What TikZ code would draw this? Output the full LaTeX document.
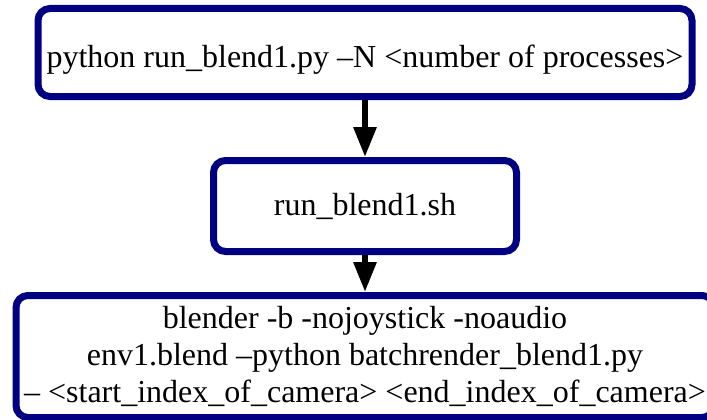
\documentclass[tikz,border=0pt]{standalone}
\usepackage{fontspec}
\setmainfont{Liberation Serif}
\newfontfamily\cmdface{Liberation Serif}
\usetikzlibrary{arrows.meta}
\definecolor{boxnavy}{HTML}{000080}
\tikzset{
  cmdbox/.style={draw=boxnavy, line width=7pt, rounded corners=12pt, fill=white,
    inner sep=0pt, align=center, font=\cmdface\fontsize{32}{37}\selectfont},
  flowarrow/.style={line width=6pt, -{Triangle[length=30pt,width=22pt]}}
}
\begin{document}
\begin{tikzpicture}[x=1pt,y=-1pt]
  \useasboundingbox (0,0) rectangle (707,420);
  \clip (0,0) rectangle (707,420);
  \node[cmdbox, minimum width=654pt, minimum height=88pt,
        text height=31pt, text depth=0pt] (b1) at (365,52.5)
    {python run\_blend1.py –N <number of processes>};
  \node[cmdbox, minimum width=303pt, minimum height=91pt] (b2) at (365,206)
    {run\_blend1.sh};
  \node[cmdbox, minimum width=698pt, minimum height=122pt] (b3) at (365,356.5)
    {blender -b -nojoystick -noaudio\\env1.blend –python batchrender\_blend1.py\\– <start\_index\_of\_camera> <end\_index\_of\_camera>};
  \draw[flowarrow] (b1.south) -- (b2.north);
  \draw[flowarrow] (b2.south) -- (b3.north);
\end{tikzpicture}
\end{document}
